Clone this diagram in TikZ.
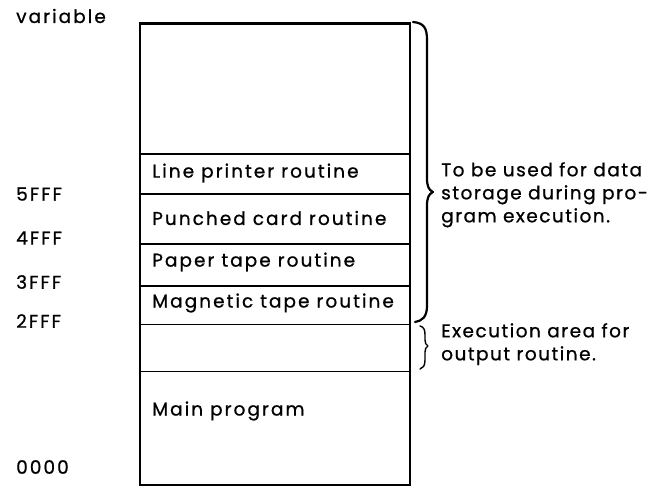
\documentclass[tikz,border=0pt]{standalone}
\usepackage{fontspec}
\setmainfont{Poppins}[LetterSpace=11,FakeBold=0.8]
\begin{document}
\begin{tikzpicture}[x=1pt,y=-1pt,
  lbl/.style={anchor=west,inner sep=0pt,font=\fontsize{18.5}{23}\selectfont},
  note/.style={lbl,align=left,anchor=north west,font=\fontsize{18.5}{23}\selectfont\addfontfeatures{LetterSpace=8}},
  reg/.style={draw,line width=1.4pt,minimum width=270pt,inner sep=0pt,anchor=north west},
  outer/.style={draw,line width=2.4pt,minimum width=270pt,inner sep=0pt,anchor=north west},
  brace/.style={line width=2.2pt,line cap=round,line join=round},
  sbrace/.style={line width=1.4pt,line cap=round,line join=round}]
\useasboundingbox (0,0) rectangle (667,489);
% regions
\node[reg,minimum height=131pt] (free) at (138.5,22.5) {};
\node[reg,minimum height=40pt] (lp) at (138.5,153.5) {};
\node[reg,minimum height=50pt] (pc) at (138.5,193.5) {};
\node[reg,minimum height=42pt] (pt) at (138.5,243.5) {};
\node[reg,minimum height=38pt] (mt) at (138.5,285.5) {};
\node[reg,minimum height=47pt] (ex) at (138.5,323.5) {};
\node[reg,minimum height=113pt] (mp) at (138.5,370.5) {};
\node[outer,minimum height=461pt] (mem) at (138.5,22.5) {};
% region texts
\node[lbl] (tlp) at (152,173) {Line printer routine};
\node[lbl] (tpc) at (152,218) {Punched card routine};
\node[lbl] (tpt) at (152,262) {Paper tape routine};
\node[lbl] (tmt) at (152,303) {Magnetic tape routine};
\node[lbl] (tmp) at (152,411) {Main program};
% addresses
\node[lbl] (avar) at (16,16) {variable};
\node[lbl] (a5) at (16,194) {5FFF};
\node[lbl] (a4) at (16,238) {4FFF};
\node[lbl] (a3) at (16,282) {3FFF};
\node[lbl] (a2) at (16,321) {2FFF};
\node[lbl] (a0) at (16,467) {0000};
% braces
\coordinate (bt) at (413,22);
\coordinate (bb) at (415,322);
\draw[brace] (bt) .. controls (424,23) and (427,28) .. (427,40)
  -- (427,178) .. controls (427,187) and (429,190) .. (433,192)
  .. controls (429,194) and (427,197) .. (427,206)
  -- (427,306) .. controls (427,317) and (422,321) .. (bb);
\coordinate (st) at (420,326);
\coordinate (sb) at (420,369);
\draw[sbrace] (st) .. controls (424,327) and (425,330) .. (425,335)
  -- (425,340) .. controls (425,343) and (426,345) .. (428,346)
  .. controls (426,347) and (425,349) .. (425,352)
  -- (425,360) .. controls (425,366) and (423,368) .. (sb);
% notes
\node[note] (n1) at (441,162) {To be used for data\\storage during pro-\\gram execution.};
\node[note] (n2) at (441,323) {Execution area for\\output routine.};
\end{tikzpicture}
\end{document}
